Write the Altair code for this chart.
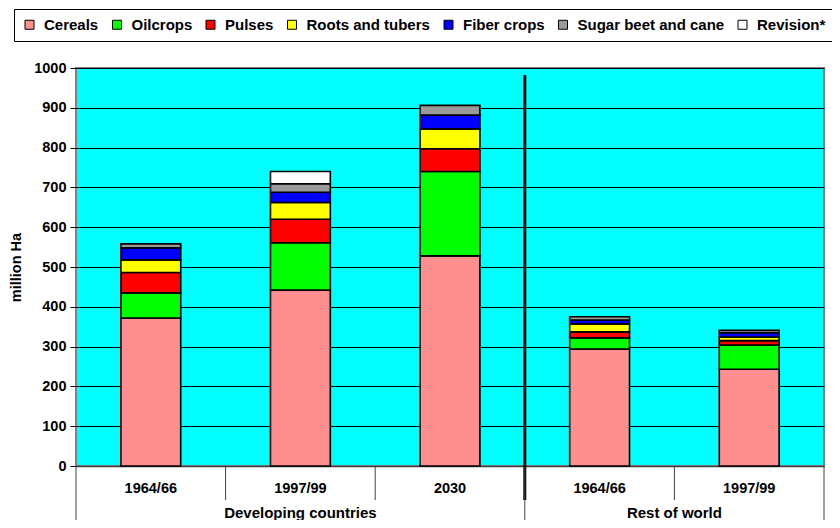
import altair as alt
import pandas as pd

# ---- data ----
periods = ["1964/66", "1997/99", "2030", "1964/66", "1997/99"]
regions = ["Developing countries", "Developing countries", "Developing countries",
           "Rest of world", "Rest of world"]
crops = ["Cereals", "Oilcrops", "Pulses", "Roots and tubers", "Fiber crops",
         "Sugar beet and cane", "Revision*"]
crop_colors = ["#ff8f8f", "#00ff00", "#ff0000", "#ffff00", "#0000ff", "#9a9a9a", "#ffffff"]

cereals = [372, 442, 528, 294, 243]
oilcrops = [63, 119, 212, 28, 61]
pulses = [51, 59, 57, 15, 11]
roots = [32, 42, 50, 20, 9]
fiber = [30, 26, 35, 10, 11]
sugar = [10, 21, 24, 8, 6]
revision = [0, 31, 0, 0, 0]
y_ticks = [0, 100, 200, 300, 400, 500, 600, 700, 800, 900, 1000]

series = [cereals, oilcrops, pulses, roots, fiber, sugar, revision]
keys = [f"{r}|{p}" for r, p in zip(regions, periods)]

rows = []
for ci, (crop, vals) in enumerate(zip(crops, series)):
    for k, v in zip(keys, vals):
        if v > 0:
            rows.append({"key": k, "crop": crop, "order": ci, "value": v})
df = pd.DataFrame(rows)

FONT = "Liberation Sans"
x_scale = alt.Scale(domain=keys, paddingInner=0, paddingOuter=0)
x_axis = alt.Axis(title=None, labelExpr="split(datum.label, '|')[1]",
                  ticks=False, labelAngle=0, labelFontSize=14.5,
                  labelFontWeight="bold", labelColor="black",
                  labelPadding=15, grid=False, domainColor="#404040",
                  domainWidth=1.5, labelOverlap=False)


def xenc(band):
    return alt.X("key:N", scale=x_scale, sort=keys, bandPosition=band, axis=x_axis)


bars = alt.Chart(df).mark_bar(
    width=alt.RelativeBandSize(0.4), stroke="black", strokeWidth=1.6
).encode(
    x=alt.X("key:N", scale=x_scale, sort=keys, axis=x_axis),
    y=alt.Y("value:Q", stack="zero",
            scale=alt.Scale(domain=[0, 1000], nice=False),
            axis=alt.Axis(values=y_ticks, format="d", title="million Ha",
                          titleFontSize=14.5, titleFontWeight="bold",
                          titleColor="black",
                          titleX=-60, titleY=199, titleAlign="center",
                          titleBaseline="middle", titleAngle=-90,
                          labelFontSize=14.5, labelFontWeight="bold",
                          labelColor="black", labelPadding=4, tickSize=6,
                          tickColor="black", domain=False, grid=True,
                          gridColor="black", gridWidth=1, gridOpacity=1)),
    color=alt.Color("crop:N", sort=crops,
                    scale=alt.Scale(domain=crops, range=crop_colors),
                    legend=alt.Legend(orient="none", legendX=-62, legendY=-59,
                                      direction="horizontal", columns=7, title=None,
                                      symbolType="square", symbolSize=81,
                                      symbolStrokeColor="black", symbolStrokeWidth=1,
                                      symbolOpacity=1,
                                      labelFont=FONT, labelFontSize=15,
                                      labelFontWeight="bold", labelColor="black",
                                      labelOffset=7, columnPadding=10.5,
                                      strokeColor="black", fillColor="white",
                                      padding=8)),
    order=alt.Order("order:Q", sort="ascending"),
)

# separator between the two regions (thick line inside plot)
sep_df = pd.DataFrame({"key": [keys[3]]})
separator = alt.Chart(sep_df).mark_rule(color="black", strokeWidth=3).encode(
    x=xenc(0), y=alt.value(7), y2=alt.value(432),
)

# group boundary lines below the axis
grp_left_df = pd.DataFrame({"key": [keys[0], keys[3]]})
grp_left = alt.Chart(grp_left_df).mark_rule(color="#404040", strokeWidth=1).encode(
    x=xenc(0), y=alt.value(398), y2=alt.value(452),
)
grp_right_df = pd.DataFrame({"key": [keys[4]]})
grp_right = alt.Chart(grp_right_df).mark_rule(color="#404040", strokeWidth=1).encode(
    x=xenc(1), y=alt.value(398), y2=alt.value(452),
)

# category divider ticks
tick_df = pd.DataFrame({"key": [keys[1], keys[2], keys[4]]})
ticks = alt.Chart(tick_df).mark_rule(color="#404040", strokeWidth=1).encode(
    x=xenc(0), y=alt.value(398), y2=alt.value(432),
)

# group labels
dc_df = pd.DataFrame({"key": [keys[1]], "label": [regions[0]]})
dc_label = alt.Chart(dc_df).mark_text(
    font=FONT, fontSize=15, fontWeight="bold", color="black", baseline="middle"
).encode(x=xenc(0.5), y=alt.value(445), text="label:N")
row_df = pd.DataFrame({"key": [keys[4]], "label": [regions[3]]})
row_label = alt.Chart(row_df).mark_text(
    font=FONT, fontSize=15, fontWeight="bold", color="black", baseline="middle"
).encode(x=xenc(0), y=alt.value(445), text="label:N")

chart = alt.layer(bars, separator, grp_left, grp_right, ticks, dc_label, row_label).properties(
    width=748, height=398,
    autosize=alt.AutoSizeParams(type="none"),
    padding={"left": 68, "top": 60, "right": 8, "bottom": 54},
).configure(font=FONT).configure_view(
    fill="#00ffff", stroke="#808080", strokeWidth=2
).configure_axis(labelFont=FONT, titleFont=FONT)

chart.save("out.html", embed_options={"renderer": "svg", "actions": False})
